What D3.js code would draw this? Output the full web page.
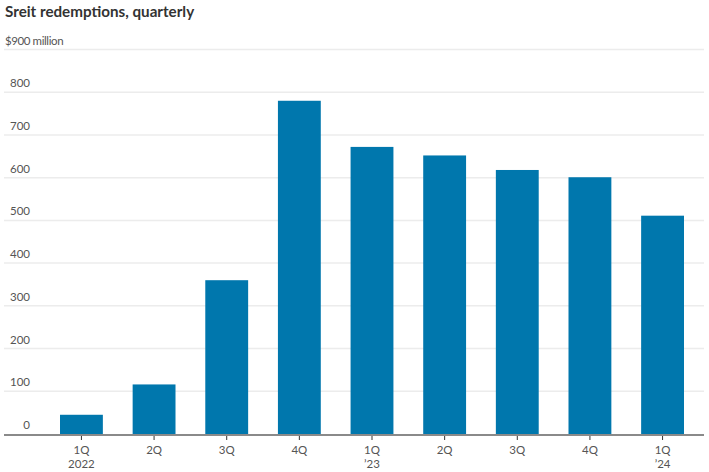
<!DOCTYPE html>
<html><head><meta charset="utf-8">
<script src="https://cdn.jsdelivr.net/npm/d3@7"></script>
<style>body{margin:0;background:#fff;} svg{display:block;}</style>
</head><body>
<svg id="c" width="709" height="472"></svg>
<script>
const quarters = ["1Q","2Q","3Q","4Q","1Q","2Q","3Q","4Q","1Q"];
const years = ["2022","","","","’23","","","","’24"];
const values = [45, 116, 360, 780, 672, 652, 618, 601, 511];
const yTicks = [0,100,200,300,400,500,600,700,800,900];
const title = "Sreit redemptions, quarterly";

const svg = d3.select("#c");
const font = "Lato, 'Noto Sans', sans-serif";
const ids = quarters.map((q,i)=>i);
const x = d3.scaleBand().domain(ids).range([60, 684]).paddingInner(0.41).paddingOuter(0);
const y = d3.scaleLinear().domain([0, 900]).range([434, 49.5]);

svg.append("text").attr("x",5).attr("y",17).attr("font-family",font).attr("font-weight","bold")
  .attr("font-size",15.2).attr("fill","#333").text(title);

// gridlines
svg.append("g").selectAll("line").data(yTicks.filter(d=>d>0)).join("line")
  .attr("x1",4).attr("x2",704).attr("y1",d=>y(d)).attr("y2",d=>y(d))
  .attr("stroke","#ececec").attr("stroke-width",1.5);

// y labels
svg.append("g").selectAll("text").data(yTicks).join("text")
  .attr("x",d=>d===900?5:30).attr("y",d=>y(d)-5)
  .attr("text-anchor",d=>d===900?"start":"end")
  .attr("font-family",font).attr("font-size",11.5).attr("fill","#555")
  .attr("letter-spacing",d=>d===900?"-0.4px":null)
  .text(d=>d===900?"$900 million":d);

// bars
svg.append("g").selectAll("rect").data(values).join("rect")
  .attr("x",(d,i)=>x(i)).attr("width",x.bandwidth())
  .attr("y",d=>y(d)).attr("height",d=>y(0)-y(d))
  .attr("fill","#0077ad");

// baseline
svg.append("line").attr("x1",4).attr("x2",704).attr("y1",435).attr("y2",435)
  .attr("stroke","#8a8a8a").attr("stroke-width",2);

// x ticks & labels
const xg = svg.append("g");
ids.forEach(i=>{
  const cx = x(i)+x.bandwidth()/2;
  xg.append("line").attr("x1",cx).attr("x2",cx).attr("y1",436).attr("y2",440).attr("stroke","#333").attr("stroke-width",1);
  xg.append("text").attr("x",cx).attr("y",454).attr("text-anchor","middle")
    .attr("font-family",font).attr("font-size",11.5).attr("fill","#555").text(quarters[i]);
  if(years[i]) xg.append("text").attr("x",cx).attr("y",468).attr("text-anchor","middle")
    .attr("font-family",font).attr("font-size",11.5).attr("fill","#555").text(years[i]);
});
</script>
</body></html>
